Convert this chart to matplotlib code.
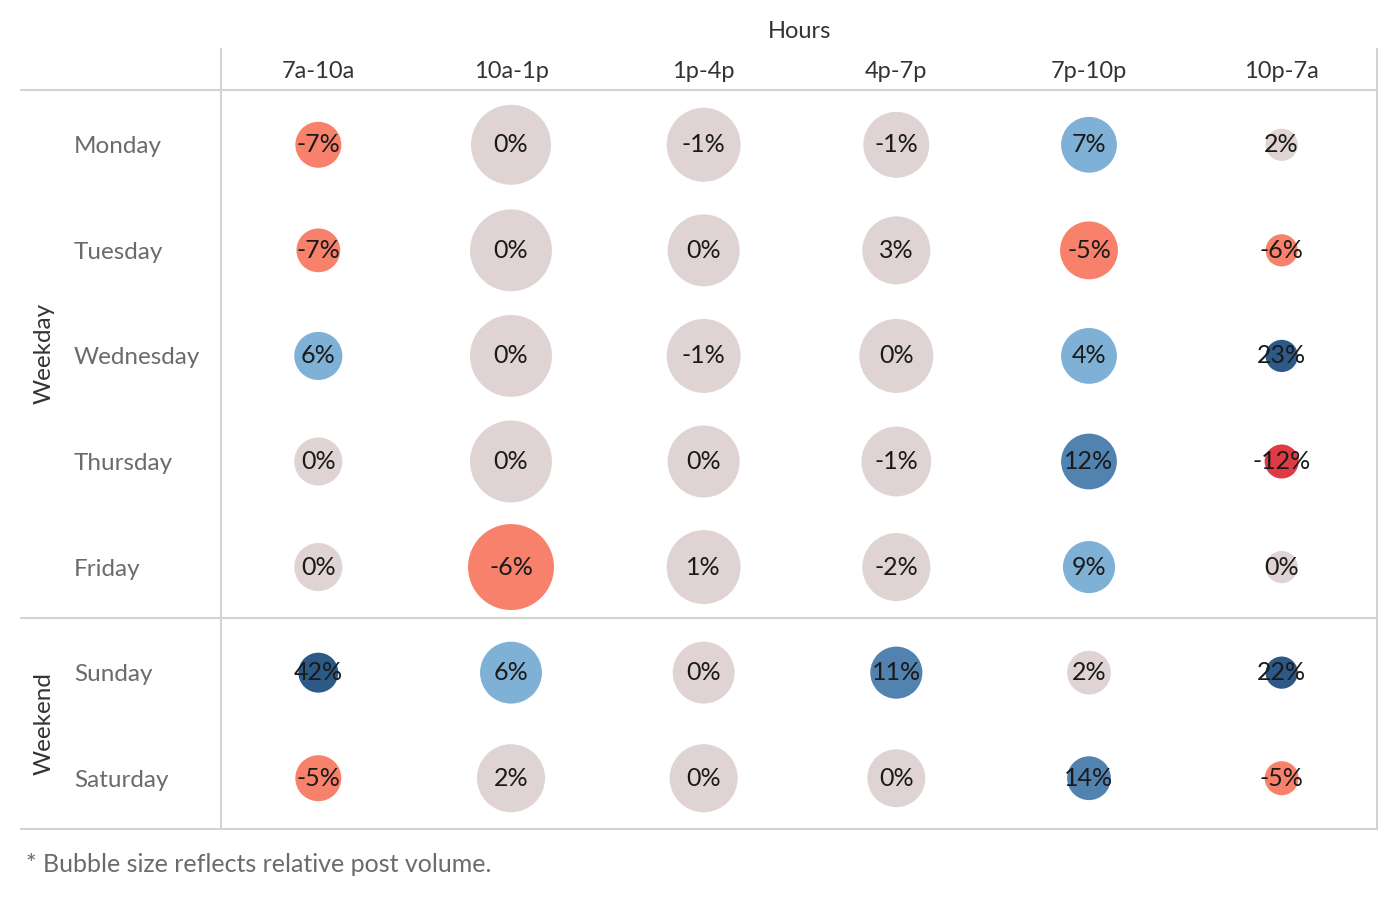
import matplotlib
matplotlib.use("Agg")
import matplotlib.pyplot as plt

plt.rcParams["font.family"] = ["Lato", "DejaVu Sans"]

hours = ["7a-10a", "10a-1p", "1p-4p", "4p-7p", "7p-10p", "10p-7a"]
days = ["Monday", "Tuesday", "Wednesday", "Thursday", "Friday", "Sunday", "Saturday"]
groups = ["Weekday", "Weekend"]
group_sizes = [5, 2]

# percent change per day x hour slot
change = [
    [-7, 0, -1, -1, 7, 2],
    [-7, 0, 0, 3, -5, -6],
    [6, 0, -1, 0, 4, 23],
    [0, 0, 0, -1, 12, -12],
    [0, -6, 1, -2, 9, 0],
    [42, 6, 0, 11, 2, 22],
    [-5, 2, 0, 0, 14, -5],
]

# relative post volume (bubble area)
volume = [
    [530, 1600, 1370, 1090, 780, 260],
    [480, 1680, 1300, 1160, 840, 260],
    [580, 1680, 1370, 1370, 780, 260],
    [580, 1680, 1300, 1220, 780, 290],
    [580, 1850, 1370, 1160, 680, 260],
    [400, 960, 960, 680, 480, 260],
    [530, 1160, 1160, 840, 480, 290],
]


def bubble_color(v):
    if v <= -10:
        return "#e03a44"
    if v <= -4:
        return "#f8816b"
    if v < 4:
        return "#dfd4d3"
    if v < 10:
        return "#7fb0d5"
    if v < 20:
        return "#5282b0"
    return "#2c5986"


W, H = 1400, 900
fig = plt.figure(figsize=(14, 9), dpi=100)

# background axes in pixel coordinates for the table rules and labels
bg = fig.add_axes([0, 0, 1, 1])
bg.set_xlim(0, W)
bg.set_ylim(H, 0)
bg.axis("off")

left, right, top, bottom = 221, 1377, 90, 829
gx0, gx1, gy0, gy1 = 222, 1378, 92, 831
ax = fig.add_axes([gx0 / W, (H - gy1) / H, (gx1 - gx0) / W, (gy1 - gy0) / H])
ax.set_xlim(-0.5, len(hours) - 0.5)
ax.set_ylim(len(days) - 0.5, -0.5)
ax.axis("off")

line_kw = dict(color="#d3d3d3", linewidth=1.5, solid_capstyle="butt")
row_h = (bottom - top) / len(days)
bg.plot([20, 1378], [top, top], **line_kw)
bg.plot([left, left], [48, bottom + 1], **line_kw)
bg.plot([right, right], [48, bottom + 1], **line_kw)
sep = top + group_sizes[0] * row_h
bg.plot([20, 1378], [sep, sep], **line_kw)
bg.plot([20, 1378], [bottom, bottom], **line_kw)

for i, day in enumerate(days):
    for j in range(len(hours)):
        v = change[i][j]
        ax.scatter(j, i, s=volume[i][j] * 2.07, color=bubble_color(v),
                   edgecolors="none", zorder=2)
        ax.text(j, i, f"{v}%", ha="center", va="center", fontsize=18,
                color="#1a1a1a", zorder=3)
    bg.text(74, gy0 + (i + 0.5) * row_h + 2, day, ha="left", va="center",
            fontsize=17.5, color="#6b6b6b")

col_w = (gx1 - gx0) / len(hours)
for j, h in enumerate(hours):
    bg.text(gx0 + (j + 0.5) * col_w, 71, h, ha="center", va="center",
            fontsize=17, color="#333333")
bg.text(800, 31, "Hours", ha="center", va="center", fontsize=17, color="#333333")

start = 0
for g, n in zip(groups, group_sizes):
    y0 = top + start * row_h
    y1 = top + (start + n) * row_h
    bg.text(44, (y0 + y1) / 2, g, rotation=90, ha="center", va="center",
            fontsize=17.5, color="#333333")
    start += n

bg.text(26, 865, "* Bubble size reflects relative post volume.", ha="left",
        va="center", fontsize=18, color="#6b6b6b")

fig.savefig("out.png", dpi=100)
